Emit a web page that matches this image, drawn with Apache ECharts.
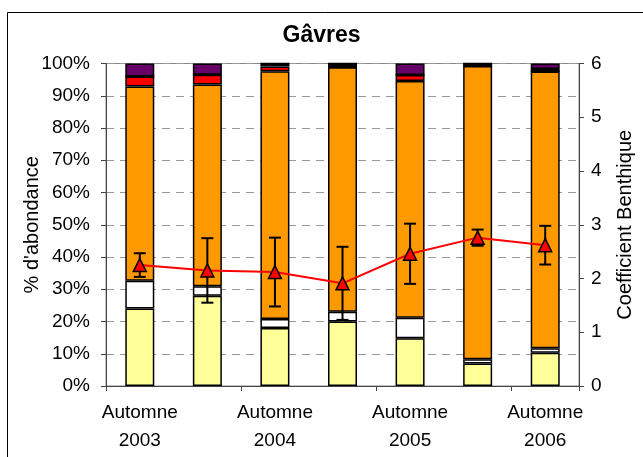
<!DOCTYPE html>
<html>
<head>
<meta charset="utf-8">
<script src="https://cdn.jsdelivr.net/npm/echarts@6/dist/echarts.min.js"></script>
<style>
  html, body { margin: 0; padding: 0; background: #fff; }
  #chart { width: 643px; height: 457px; }
</style>
</head>
<body>
<div id="chart"></div>
<script>
// campagnes (une étiquette sur deux affichée)
var categories = ['Automne\n2003', 'Printemps\n2004', 'Automne\n2004', 'Printemps\n2005',
  'Automne\n2005', 'Printemps\n2006', 'Automne\n2006'];

// % d'abondance par groupe, du bas vers le haut de la barre
var groupeI = [24, 28, 18, 20, 14.8, 7, 10.3];
var groupeII = [8.6, 2.9, 2.8, 3, 6.4, 1.3, 1.4];
var groupeIII = [60.3, 62.6, 76.8, 75.8, 73.4, 90.9, 85.8];
var groupeIV = [3.1, 3.0, 1.5, 0, 1.8, 0, 0];
var nonAttribue = [0, 0, 0.9, 1.2, 0, 0.8, 0.8];
var groupeV = [4, 3.5, 0, 0, 3.6, 0, 1.7];

// coefficient benthique et écart
var coefBenthique = [2.25, 2.15, 2.12, 1.91, 2.46, 2.76, 2.62];
var coefEcart = [0.22, 0.6, 0.64, 0.68, 0.56, 0.15, 0.36];

var font = 'Liberation Sans, Arial, sans-serif';
var myChart = echarts.init(document.getElementById('chart'));

function barSerie(name, data, color) {
  return {
    name: name,
    type: 'bar',
    stack: 'total',
    barWidth: 29,
    data: data,
    itemStyle: { color: color, borderColor: '#000', borderWidth: 1.5 },
    silent: true
  };
}

var errData = coefBenthique.map(function (v, i) {
  return [i, v - coefEcart[i], v + coefEcart[i]];
});

var option = {
  animation: false,
  backgroundColor: '#fff',
  title: {
    text: 'Gâvres',
    left: 'center',
    top: 19,
    textStyle: { fontFamily: font, fontSize: 23, fontWeight: 'bold', color: '#000' }
  },
  graphic: [{
    type: 'rect',
    shape: { x: 7.5, y: 12.5, width: 700, height: 500 },
    style: { fill: 'none', stroke: '#000', lineWidth: 1 },
    silent: true
  }],
  grid: {
    left: 106,
    right: 61,
    top: 63.5,
    height: 322.5,
    show: true,
    borderColor: '#888',
    borderWidth: 1
  },
  xAxis: {
    type: 'category',
    data: categories,
    axisLine: { lineStyle: { color: '#444', width: 1 } },
    axisTick: { show: true, length: 5, lineStyle: { color: '#444' } },
    axisLabel: {
      interval: function (i) { return i % 2 === 0; },
      fontFamily: font,
      fontSize: 19,
      color: '#000',
      lineHeight: 28,
      margin: 13
    }
  },
  yAxis: [{
    type: 'value',
    min: 0,
    max: 100,
    interval: 10,
    name: "% d'abondance",
    nameLocation: 'middle',
    nameGap: 64,
    nameMoveOverlap: false,
    nameTextStyle: { fontFamily: font, fontSize: 20, color: '#000' },
    axisLine: { show: true, lineStyle: { color: '#444' } },
    axisTick: { show: true, length: 5, lineStyle: { color: '#444' } },
    axisLabel: { formatter: '{value}%', fontFamily: font, fontSize: 19, color: '#000', margin: 16 },
    splitLine: { show: true, lineStyle: { color: '#999', type: [8, 6], width: 1 } }
  }, {
    type: 'value',
    min: 0,
    max: 6,
    interval: 1,
    position: 'right',
    name: 'Coefficient Benthique',
    nameLocation: 'middle',
    nameGap: 36,
    nameRotate: 90,
    nameTextStyle: { fontFamily: font, fontSize: 20, color: '#000' },
    axisLine: { show: true, lineStyle: { color: '#444' } },
    axisTick: { show: true, length: 5, lineStyle: { color: '#444' } },
    axisLabel: { fontFamily: font, fontSize: 19, color: '#000', margin: 12 },
    splitLine: { show: false }
  }],
  series: [
    barSerie('Groupe I', groupeI, '#FFFF99'),
    barSerie('Groupe II', groupeII, '#FFFFFF'),
    barSerie('Groupe III', groupeIII, '#FF9900'),
    barSerie('Groupe IV', groupeIV, '#FF0000'),
    barSerie('Non attribué', nonAttribue, '#000000'),
    barSerie('Groupe V', groupeV, '#660066'),
    {
      name: 'Ecart',
      type: 'custom',
      yAxisIndex: 1,
      z: 5,
      silent: true,
      data: errData,
      renderItem: function (params, api) {
        var lo = api.coord([api.value(0), api.value(1)]);
        var hi = api.coord([api.value(0), api.value(2)]);
        var w = 6;
        var st = { stroke: '#000', lineWidth: 2 };
        return {
          type: 'group',
          children: [
            { type: 'line', shape: { x1: lo[0], y1: lo[1], x2: hi[0], y2: hi[1] }, style: st },
            { type: 'line', shape: { x1: lo[0] - w, y1: lo[1], x2: lo[0] + w, y2: lo[1] }, style: st },
            { type: 'line', shape: { x1: hi[0] - w, y1: hi[1], x2: hi[0] + w, y2: hi[1] }, style: st }
          ]
        };
      }
    },
    {
      name: 'Coefficient Benthique',
      type: 'line',
      yAxisIndex: 1,
      z: 10,
      data: coefBenthique,
      symbol: 'triangle',
      symbolSize: 13,
      lineStyle: { color: '#FF0000', width: 2 },
      itemStyle: { color: '#FF0000', borderColor: '#000', borderWidth: 1.5 }
    }
  ]
};

myChart.setOption(option);
</script>
</body>
</html>
